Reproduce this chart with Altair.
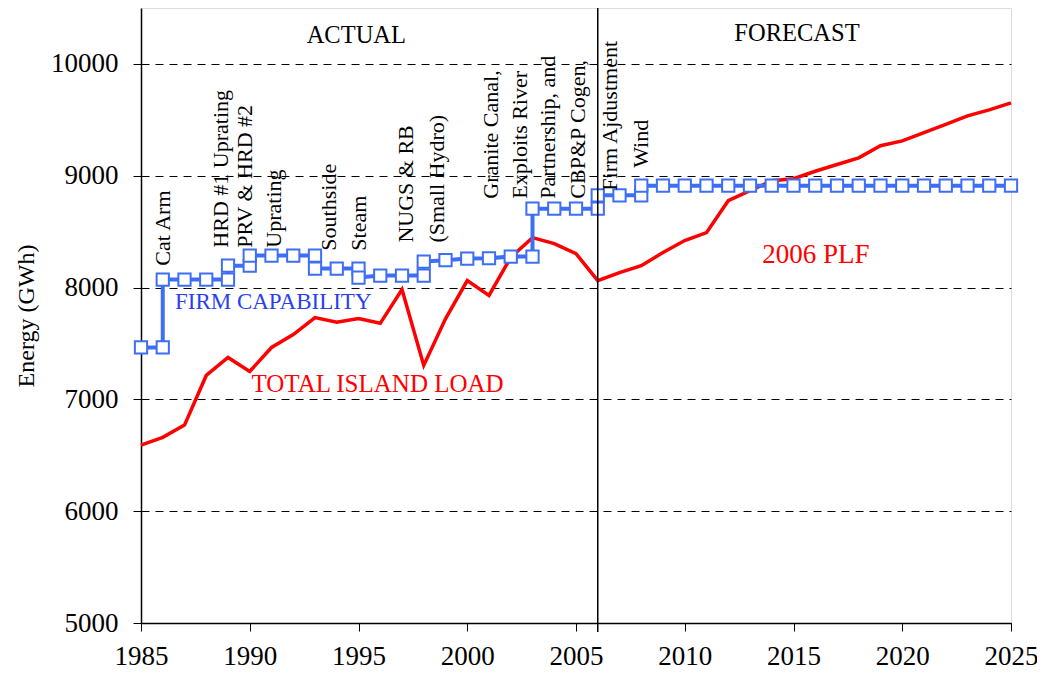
import altair as alt
import pandas as pd

# ---- data ----
load_years = list(range(1985, 2026))
load_vals = [6590, 6660, 6770, 7214, 7375, 7250, 7464, 7580, 7732, 7690,
             7723, 7680, 7982, 7304, 7720, 8062, 7929, 8270, 8446, 8393,
             8304, 8062, 8134, 8196, 8313, 8420, 8491, 8777, 8866, 8955,
             8973, 9040, 9100, 9160, 9268, 9312, 9385, 9460, 9536, 9589, 9652]

firm_years = [1985, 1986, 1986, 1987, 1988, 1989, 1989, 1990, 1990, 1991,
              1992, 1993, 1993, 1994, 1995, 1995, 1996, 1997, 1998, 1998,
              1999, 2000, 2001, 2002, 2003, 2003, 2004, 2005, 2006, 2006,
              2007, 2008, 2008] + list(range(2009, 2026))
firm_vals = [7464, 7464, 8071, 8071, 8071, 8071, 8196, 8196, 8286, 8286,
             8286, 8286, 8170, 8170, 8170, 8089, 8107, 8107, 8107, 8232,
             8245, 8259, 8262, 8277, 8277, 8705, 8705, 8705, 8705, 8825,
             8825, 8825, 8911] + [8911] * 17

annot_text = ["Cat Arm", "HRD #1 Uprating", "PRV & HRD #2", "Uprating",
              "Southside", "Steam", "NUGS & RB", "(Small Hydro)",
              "Granite Canal,", "Exploits River", "Partnership, and",
              "CBP&P Cogen,", "Firm Ajdustment", "Wind"]
annot_x = [1986.0, 1988.7, 1989.76, 1991.13, 1993.65, 1995.0, 1997.2, 1998.6,
           2001.1, 2002.44, 2003.72, 2005.1, 2006.56, 2007.97]
annot_y = [8196, 8357, 8357, 8357, 8330, 8330, 8402, 8402,
           8795, 8795, 8795, 8795, 8866, 9071]

label_text = ["ACTUAL", "FORECAST", "FIRM CAPABILITY", "TOTAL ISLAND LOAD", "2006 PLF"]
label_x = [1994.9, 2015.16, 1986.56, 1990.08, 2013.56]
label_y = [10250, 10268, 7875, 7134, 8295]
label_align = ["center", "center", "left", "left", "left"]
label_color = ["black", "black", "#2B3FF0", "#FF0000", "#FF0000"]
label_size = [24.5, 24.5, 23, 25, 27]

divider_year = [2006]

FONT = "Liberation Serif"
BLUE = "#3D6EF5"
RED = "#FF0000"
W, H = 870, 615

load_df = pd.DataFrame({"year": load_years, "value": load_vals})
firm_df = pd.DataFrame({"year": firm_years, "value": firm_vals,
                        "idx": list(range(len(firm_years)))})
annot_df = pd.DataFrame({"year": annot_x, "value": annot_y, "text": annot_text})
lab_df = pd.DataFrame({"year": label_x, "value": label_y, "text": label_text,
                       "align": label_align, "color": label_color,
                       "size": label_size})
div_df = pd.DataFrame({"year": divider_year})

xscale = alt.Scale(domain=[1985, 2025], nice=False, zero=False)
yscale = alt.Scale(domain=[5000, 10500], nice=False, zero=False)

x_enc = alt.X("year:Q", scale=xscale,
              axis=alt.Axis(values=list(range(1985, 2026, 5)), format="d",
                            grid=False, tickSize=8, tickColor="black",
                            domainColor="black", domainWidth=1.5,
                            labelFlush=False, labelOverlap=False,
                            labelPadding=12, labelFontSize=27, labelFont=FONT,
                            labelColor="black", title=None))
y_enc = alt.Y("value:Q", scale=yscale,
              axis=alt.Axis(values=list(range(5000, 10001, 1000)), format="d",
                            grid=True, gridDash=[8, 6], gridColor="black",
                            gridWidth=1, tickSize=8, tickColor="black",
                            domainColor="black", domainWidth=1.5,
                            labelFlush=False, labelOverlap=False,
                            labelPadding=15, labelFontSize=27, labelFont=FONT,
                            labelColor="black", title="Energy (GWh)",
                            titleFont=FONT, titleFontSize=24,
                            titleFontWeight="normal", titleColor="black",
                            titlePadding=12))

base_load = alt.Chart(load_df).mark_line(color=RED, strokeWidth=3.5).encode(
    x=x_enc, y=y_enc)

firm = alt.Chart(firm_df).mark_line(
    color=BLUE, strokeWidth=4,
    point=alt.OverlayMarkDef(shape="square", filled=True, fill="white",
                             stroke=BLUE, strokeWidth=2, size=150, opacity=1)
).encode(x="year:Q", y="value:Q", order="idx:Q")

divider = alt.Chart(div_df).mark_rule(color="black", strokeWidth=1.5).encode(
    x="year:Q", y=alt.value(0), y2=alt.value(H + 9))

annots = alt.Chart(annot_df).mark_text(
    angle=270, align="left", baseline="middle", font=FONT, fontSize=22,
    color="black").encode(x="year:Q", y="value:Q", text="text:N")

labs_center = alt.Chart(lab_df[lab_df["align"] == "center"]).mark_text(
    align="center", baseline="middle", font=FONT).encode(
    x="year:Q", y="value:Q", text="text:N",
    size=alt.Size("size:Q", scale=None),
    color=alt.Color("color:N", scale=None))
labs_left = alt.Chart(lab_df[lab_df["align"] == "left"]).mark_text(
    align="left", baseline="middle", font=FONT).encode(
    x="year:Q", y="value:Q", text="text:N",
    size=alt.Size("size:Q", scale=None),
    color=alt.Color("color:N", scale=None))

chart = alt.layer(base_load, firm, divider, annots, labs_center, labs_left).properties(
    width=W, height=H,
    autosize=alt.AutoSizeParams(type="none"),
    padding={"left": 133, "top": 0, "right": 26, "bottom": 48},
).configure_view(stroke="black", strokeWidth=1.5).configure(background="white")

chart.save("out.html", embed_options={"renderer": "svg", "actions": False})
